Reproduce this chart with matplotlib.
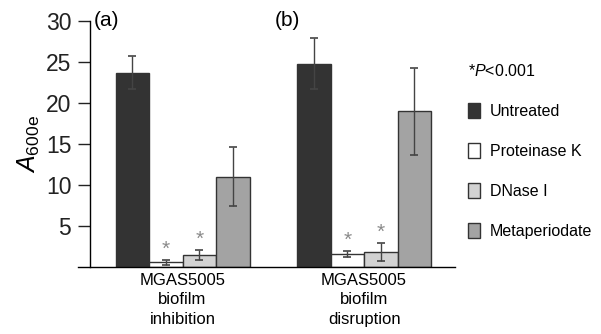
import matplotlib
matplotlib.use("Agg")
import matplotlib.pyplot as plt
import numpy as np

plt.rcParams["font.family"] = ["Liberation Sans", "DejaVu Sans"]
plt.rcParams["mathtext.fontset"] = "custom"
plt.rcParams["mathtext.rm"] = "Liberation Sans"
plt.rcParams["mathtext.it"] = "Liberation Sans:italic"

# data
groups = ["MGAS5005\nbiofilm\ninhibition", "MGAS5005\nbiofilm\ndisruption"]
treatments = ["Untreated", "Proteinase K", "DNase I", "Metaperiodate"]
untreated = [23.7, 24.8]
untreated_err = [2.0, 3.1]
proteinase = [0.6, 1.6]
proteinase_err = [0.3, 0.4]
dnase = [1.5, 1.8]
dnase_err = [0.6, 1.1]
metaperiodate = [11.0, 19.0]
metaperiodate_err = [3.6, 5.3]
significant = [False, True, True, False]
panel_labels = ["(a)", "(b)"]

colors = ["#333333", "#ffffff", "#d2d2d2", "#a3a3a3"]
edge = "#333333"

fig = plt.figure(figsize=(6.01, 3.34), dpi=100)
ax = fig.add_axes([78 / 601, 67 / 334, 377 / 601, 246 / 334])

x = np.arange(len(groups))
w = 0.1846
series = [(untreated, untreated_err), (proteinase, proteinase_err),
          (dnase, dnase_err), (metaperiodate, metaperiodate_err)]
handles = []
for i, (vals, errs) in enumerate(series):
    pos = x + (i - 1.5) * w
    b = ax.bar(pos, vals, width=w, color=colors[i], edgecolor=edge,
               linewidth=1.0, label=treatments[i], zorder=2)
    handles.append(b)
    ax.errorbar(pos, vals, yerr=errs, fmt="none", ecolor="#444444",
                elinewidth=1.0, capsize=3, capthick=1.2, zorder=3)
    if significant[i]:
        for p, v, e in zip(pos, vals, errs):
            ax.text(p, v + e + 0.15, "*", ha="center", va="bottom",
                    fontsize=15, color="#8a8a8a")

ax.set_xlim(-0.576, 1.501)
ax.set_ylim(0, 30)
ax.set_yticks([5, 10, 15, 20, 25, 30])
ax.tick_params(axis="y", direction="out", length=8.5, width=1,
               labelsize=16.5, pad=5, colors="#222222")
ax.set_xticks(x)
ax.set_xticklabels(groups, fontsize=12, linespacing=1.4)
ax.tick_params(axis="x", length=0, pad=4)
for s in ["top", "right"]:
    ax.spines[s].set_visible(False)
ax.spines["left"].set_position(("axes", 12 / 377))
ax.spines["left"].set_linewidth(1.0)
ax.spines["bottom"].set_linewidth(1.0)
ax.set_ylabel(r"$A_{\mathrm{600e}}$", fontsize=18, labelpad=3)

for i, lab in enumerate(panel_labels):
    ax.text(x[i] - 0.49, 30, lab, ha="left", va="center", fontsize=15)

fig.legend(handles, treatments, loc="upper left",
           bbox_to_anchor=(468 / 601, 1 - 63 / 334), frameon=False,
           fontsize=11.5, title=r"*$P$<0.001", title_fontsize=11.5,
           alignment="left", handlelength=0.75, handleheight=1.1,
           handletextpad=0.6, labelspacing=1.5, borderpad=0,
           borderaxespad=0)

fig.savefig("out.png", dpi=100)
